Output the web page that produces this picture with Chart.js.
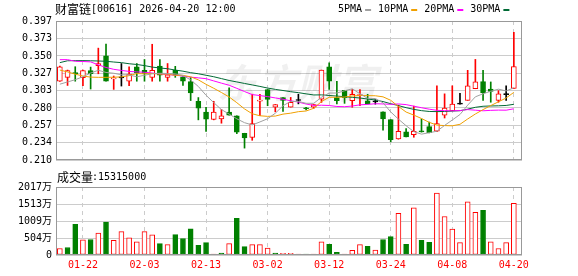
<!DOCTYPE html>
<html>
<head>
<meta charset="utf-8">
<style>
  body { margin: 0; background: #fff; }
  #wrap { position: relative; width: 578px; height: 276px; overflow: hidden; }
  canvas { position: absolute; left: 0; }
</style>
<script src="https://cdn.jsdelivr.net/npm/chart.js@4.4.1/dist/chart.umd.min.js"></script>
</head>
<body>
<div id="wrap">
  <canvas id="price" width="578" height="170" style="top:0"></canvas>
  <canvas id="vol" width="578" height="106" style="top:170px"></canvas>
</div>
<script>
// trading days shown on the chart
var dates = ['01-19','01-20','01-21','01-22','01-23','01-26','01-27','01-28','01-29','01-30',
  '02-02','02-03','02-04','02-05','02-06','02-09','02-10','02-11','02-12','02-13',
  '02-16','02-20','02-23','02-24','02-25','02-26','02-27','03-02','03-03','03-04',
  '03-05','03-06','03-09','03-10','03-11','03-12','03-13','03-16','03-17','03-18',
  '03-19','03-20','03-23','03-24','03-25','03-26','03-27','03-30','03-31','04-01',
  '04-02','04-08','04-09','04-10','04-13','04-14','04-15','04-16','04-17','04-20'];
var shownDates = ['01-22','02-03','02-13','03-02','03-12','03-24','04-08','04-20'];

var opens = [0.3160,0.3212,0.3268,0.3208,0.3304,0.3370,0.3500,0.3192,0.3205,0.3160,
  0.3355,0.3306,0.3210,0.3365,0.3212,0.3306,0.3220,0.3155,0.2890,0.2745,
  0.2645,0.2652,0.2745,0.2695,0.2460,0.2405,0.2893,0.3048,0.2812,0.2941,
  0.2812,0.2900,0.2795,0.2812,0.2918,0.3354,0.2940,0.3036,0.2897,0.2966,
  0.2897,0.2881,0.2747,0.2643,0.2385,0.2479,0.2440,0.2484,0.2548,0.2488,
  0.2703,0.2764,0.2851,0.2903,0.3059,0.3154,0.3055,0.2903,0.2980,0.3063];
var highs = [0.3365,0.3310,0.3355,0.3310,0.3350,0.3605,0.3658,0.3230,0.3398,0.3354,
  0.3398,0.3452,0.3657,0.3452,0.3398,0.3360,0.3220,0.3210,0.2940,0.2810,
  0.2890,0.2780,0.3070,0.2695,0.2460,0.2985,0.2985,0.3048,0.2847,0.2941,
  0.2942,0.2985,0.2810,0.2846,0.3310,0.3406,0.3158,0.3036,0.3049,0.3049,
  0.2984,0.2912,0.2747,0.2643,0.2838,0.2522,0.2825,0.2652,0.2610,0.3098,
  0.2990,0.3098,0.2998,0.3306,0.3453,0.3306,0.3150,0.3033,0.3098,0.3818];
var lows = [0.3158,0.3103,0.3160,0.3100,0.3055,0.3260,0.3160,0.3050,0.3095,0.3100,
  0.3160,0.3160,0.3160,0.3160,0.3160,0.3212,0.3105,0.2900,0.2640,0.2485,
  0.2640,0.2595,0.2703,0.2455,0.2260,0.2365,0.2696,0.2830,0.2748,0.2755,
  0.2812,0.2855,0.2775,0.2795,0.2875,0.3050,0.2853,0.2862,0.2810,0.2832,
  0.2853,0.2851,0.2500,0.2345,0.2380,0.2410,0.2406,0.2475,0.2465,0.2480,
  0.2665,0.2764,0.2851,0.2903,0.3059,0.2903,0.2877,0.2877,0.2903,0.3063];
var closes = [0.3355,0.3304,0.3262,0.3304,0.3263,0.3398,0.3160,0.3205,0.3205,0.3255,
  0.3270,0.3265,0.3306,0.3240,0.3245,0.3240,0.3160,0.3003,0.2798,0.2648,
  0.2745,0.2693,0.2703,0.2475,0.2396,0.2590,0.2898,0.2915,0.2847,0.2900,
  0.2876,0.2900,0.2790,0.2846,0.3310,0.3160,0.2897,0.2940,0.2984,0.2975,
  0.2853,0.2881,0.2652,0.2375,0.2487,0.2410,0.2487,0.2479,0.2468,0.2591,
  0.2799,0.2851,0.2851,0.3098,0.3150,0.3003,0.3024,0.2990,0.2980,0.3358];

var ma5 = [0.312,0.315,0.318,0.322,0.327,0.3307,0.3278,0.3267,0.3247,0.3245,
  0.3219,0.324,0.326,0.3267,0.3264,0.3258,0.3238,0.3177,0.3089,0.2971,
  0.2872,0.2778,0.2718,0.2654,0.2602,0.2571,0.2612,0.2655,0.2729,0.283,
  0.2888,0.2888,0.2863,0.2863,0.2944,0.3001,0.3001,0.3031,0.3058,0.2991,
  0.293,0.2927,0.2869,0.2747,0.265,0.2561,0.2482,0.2448,0.2467,0.2487,
  0.2565,0.2638,0.2712,0.2838,0.295,0.2991,0.3025,0.3053,0.3029,0.3071];
var ma10 = [0.331,0.3285,0.3255,0.323,0.3215,0.3212,0.3212,0.3214,0.3218,0.3235,
  0.3263,0.3259,0.3264,0.3257,0.3255,0.3239,0.3239,0.3219,0.3178,0.3118,
  0.3065,0.3008,0.2948,0.2871,0.2787,0.2722,0.2695,0.2687,0.2691,0.2717,
  0.273,0.275,0.2759,0.2796,0.2887,0.2944,0.2944,0.2947,0.2961,0.2968,
  0.2966,0.2964,0.295,0.2903,0.282,0.2745,0.2704,0.2658,0.2607,0.2569,
  0.2563,0.256,0.258,0.2652,0.2719,0.2778,0.2832,0.2883,0.2934,0.301];
var ma20 = [0.345,0.345,0.3428,0.3425,0.342,0.338,0.3345,0.332,0.3305,0.3292,
  0.3285,0.328,0.327,0.3258,0.325,0.324,0.323,0.3215,0.3205,0.3194,
  0.3164,0.3134,0.3106,0.3064,0.3021,0.298,0.2967,0.2953,0.2935,0.2917,
  0.2897,0.2879,0.2853,0.2834,0.2837,0.2833,0.282,0.2817,0.2826,0.2842,
  0.2848,0.2857,0.2854,0.2849,0.2854,0.2845,0.2824,0.2803,0.2784,0.2768,
  0.2764,0.2762,0.2765,0.2778,0.277,0.2762,0.2768,0.2771,0.277,0.2789];
var ma30 = [0.341,0.3435,0.3437,0.3437,0.3435,0.3432,0.3428,0.3418,0.341,0.3395,
  0.3385,0.337,0.335,0.3338,0.3328,0.331,0.3295,0.3275,0.326,0.324,
  0.322,0.3195,0.317,0.315,0.313,0.311,0.309,0.3068,0.305,0.3035,
  0.3019,0.3006,0.299,0.2975,0.2976,0.2968,0.296,0.2951,0.2943,0.2934,
  0.292,0.2907,0.2886,0.2857,0.2832,0.2804,0.2781,0.2764,0.2753,0.2751,
  0.2753,0.2758,0.2763,0.2784,0.2809,0.2823,0.2827,0.2829,0.2834,0.2849];

var volumes = [1930000,2220000,9130000,4520000,4610000,6530000,9800000,4320000,6920000,5090000,
  3940000,6920000,5960000,3360000,3070000,6050000,4900000,7780000,2880000,3650000,
  290000,580000,3360000,10860000,2500000,3070000,3070000,2020000,580000,480000,
  480000,200000,200000,200000,3940000,3170000,780000,200000,1350000,3070000,
  2590000,1440000,4610000,5470000,12390000,3170000,14020000,4320000,3750000,18330000,
  11430000,7680000,3650000,15750000,12680000,13250000,3940000,1930000,3650000,15315000];
// 1 = close up (red hollow bar), 0 = down (green bar)
var volUp = [1,0,0,1,0,1,0,1,1,1, 1,1,1,0,1,0,0,0,0,0, 1,0,1,0,0,1,1,1,0,1,
  1,1,0,1,1,0,0,1,1,1, 0,1,0,0,1,0,1,0,0,1, 1,1,1,1,1,0,1,1,1,1];

var priceTicks = [0.210,0.234,0.257,0.280,0.303,0.327,0.350,0.373,0.397];
var volTicks = [0,5042500,10085000,15127500,20170000];
var volTickLabels = ['0','504万','1009万','1513万','2017万'];

var RED = '#ff0000', GREEN = '#008000', BLACK = '#000000';
var MONO = '"DejaVu Sans Mono", "Noto Sans CJK SC", monospace';
var CJK = '"Noto Sans CJK SC", sans-serif';

var shownIdx = shownDates.map(function (d) { return dates.indexOf(d); });

function candleColor(i) {
  if (closes[i] > opens[i]) return RED;
  if (closes[i] < opens[i]) return GREEN;
  return BLACK;
}
var colors = dates.map(function (d, i) { return candleColor(i); });

function maLine(label, values, color) {
  return {
    type: 'line', label: label, order: 0,
    data: values.map(function (v, i) { return {x: i, y: v}; }),
    borderColor: color, borderWidth: 1, pointRadius: 0, tension: 0
  };
}

// chart frame, drawn over everything
var framePlugin = {
  id: 'frame',
  afterDraw: function (chart) {
    var a = chart.chartArea, ctx = chart.ctx;
    ctx.save();
    ctx.strokeStyle = '#999';
    ctx.lineWidth = 1;
    ctx.strokeRect(a.left + 0.5, a.top + 0.5, a.right - a.left - 1, a.bottom - a.top - 1);
    ctx.restore();
  }
};

var priceText = {
  id: 'priceText',
  beforeDatasetsDraw: function (chart) {
    var ctx = chart.ctx;
    ctx.save();
    ctx.font = 'italic bold 40px ' + CJK;
    ctx.fillStyle = 'rgba(0,0,0,0.06)';
    ctx.textAlign = 'center';
    ctx.textBaseline = 'middle';
    ctx.fillText('东方财富', 297, 83);
    ctx.restore();
  },
  afterDraw: function (chart) {
    var ctx = chart.ctx;
    ctx.save();
    ctx.fillStyle = '#000';
    ctx.textBaseline = 'middle';
    ctx.font = '12px ' + CJK;
    ctx.fillText('财富链', 55, 9);
    ctx.font = '10px ' + MONO;
    ctx.fillText('[00616] 2026-04-20 12:00', 91, 9);

    var legend = [['5PMA', '#a0a0a0'], ['10PMA', '#f0a000'], ['20PMA', '#ff00ff'], ['30PMA', '#006a35']];
    var x = 338;
    legend.forEach(function (item) {
      ctx.fillStyle = '#000';
      ctx.fillText(item[0], x, 9);
      x += ctx.measureText(item[0]).width + 3;
      ctx.fillStyle = item[1];
      ctx.fillRect(x, 9, 6, 2);
      x += 6 + 7;
    });
    ctx.restore();
  }
};

var volText = {
  id: 'volText',
  afterDraw: function (chart) {
    var ctx = chart.ctx;
    ctx.save();
    ctx.fillStyle = '#000';
    ctx.textBaseline = 'middle';
    ctx.font = '12px ' + CJK;
    ctx.fillText('成交量', 57, 7);
    ctx.font = '10px ' + MONO;
    ctx.fillText(':' + volumes[volumes.length - 1], 92, 7);
    ctx.restore();
  }
};

function xScale(showLabels) {
  return {
    type: 'linear', min: -0.5, max: 60.06, offset: false,
    afterBuildTicks: function (s) { s.ticks = shownIdx.map(function (v) { return {value: v}; }); },
    afterFit: function (s) { s.height = showLabels ? 21 : 0; },
    ticks: {
      display: showLabels, autoSkip: false, maxRotation: 0, padding: 4, color: RED,
      font: {family: MONO, size: 10},
      callback: function (v) { return dates[v]; }
    },
    grid: {color: '#ccc', drawTicks: false, offset: false},
    border: {display: false, dash: [4, 4]}
  };
}

new Chart(document.getElementById('price'), {
  type: 'bar',
  data: {
    datasets: [
      maLine('5PMA', ma5, '#a0a0a0'),
      maLine('10PMA', ma10, '#f0a000'),
      maLine('20PMA', ma20, '#ff00ff'),
      maLine('30PMA', ma30, '#006a35'),
      {
        label: 'body', order: 1, grouped: false,
        data: dates.map(function (d, i) { return {x: i, y: [opens[i], closes[i]]}; }),
        backgroundColor: colors.map(function (c) { return c === RED ? '#fff' : c; }),
        borderColor: colors, borderWidth: 1, borderSkipped: false,
        barThickness: 5, minBarLength: 1
      },
      {
        label: 'wick', order: 2, grouped: false,
        data: dates.map(function (d, i) { return {x: i, y: [lows[i], highs[i]]}; }),
        backgroundColor: colors, borderWidth: 0, barThickness: 1
      }
    ]
  },
  options: {
    responsive: false, animation: false,
    layout: {padding: {left: 0, top: 21, right: 56, bottom: 6}},
    plugins: {legend: {display: false}, tooltip: {enabled: false}},
    scales: {
      x: xScale(false),
      y: {
        min: 0.210, max: 0.397,
        afterBuildTicks: function (s) { s.ticks = priceTicks.map(function (v) { return {value: v}; }); },
        afterFit: function (s) { s.width = 56; },
        ticks: {
          color: '#000', padding: 4, font: {family: MONO, size: 10},
          callback: function (v) { return v.toFixed(3); }
        },
        grid: {color: '#ccc', drawTicks: false},
        border: {display: false}
      }
    }
  },
  plugins: [priceText, framePlugin]
});

new Chart(document.getElementById('vol'), {
  type: 'bar',
  data: {
    datasets: [{
      label: '成交量', grouped: false,
      data: volumes.map(function (v, i) { return {x: i, y: v}; }),
      backgroundColor: volUp.map(function (u) { return u ? '#fff' : GREEN; }),
      borderColor: volUp.map(function (u) { return u ? RED : GREEN; }),
      borderWidth: 1, borderSkipped: false, barThickness: 5, minBarLength: 1
    }]
  },
  options: {
    responsive: false, animation: false,
    layout: {padding: {left: 0, top: 17, right: 56, bottom: 0}},
    plugins: {legend: {display: false}, tooltip: {enabled: false}},
    scales: {
      x: xScale(true),
      y: {
        min: 0, max: 20170000,
        afterBuildTicks: function (s) { s.ticks = volTicks.map(function (v) { return {value: v}; }); },
        afterFit: function (s) { s.width = 56; },
        ticks: {
          color: '#000', padding: 4, font: {family: MONO, size: 10},
          callback: function (v) { return volTickLabels[volTicks.indexOf(v)]; }
        },
        grid: {color: '#ccc', drawTicks: false},
        border: {display: false}
      }
    }
  },
  plugins: [volText, framePlugin]
});
</script>
</body>
</html>
